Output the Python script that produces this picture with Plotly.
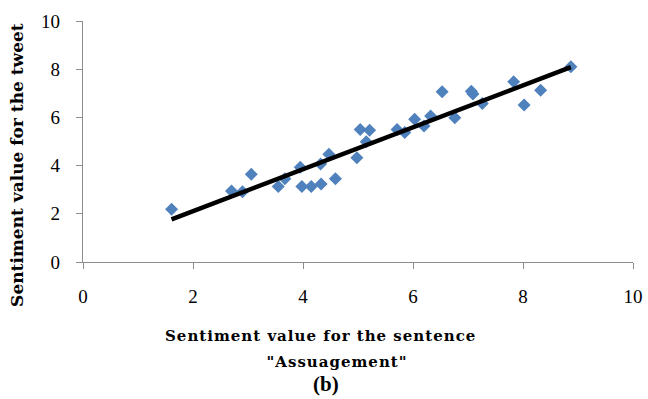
import numpy as np
import plotly.graph_objects as go

# Data
sentence_values = [1.61, 2.70, 2.90, 3.06, 3.55, 3.67, 3.95, 3.98, 4.15, 4.32, 4.33,
                   4.47, 4.59, 4.98, 5.04, 5.15, 5.21, 5.71, 5.85, 6.03, 6.20, 6.32,
                   6.53, 6.76, 7.06, 7.09, 7.26, 7.83, 8.02, 8.32, 8.87]
tweet_values = [2.19, 2.95, 2.92, 3.64, 3.13, 3.45, 3.93, 3.13, 3.13, 4.07, 3.24,
                4.47, 3.45, 4.33, 5.50, 4.99, 5.47, 5.50, 5.37, 5.92, 5.64, 6.06,
                7.06, 5.99, 7.09, 6.97, 6.58, 7.48, 6.51, 7.13, 8.10]
tick_values = [0, 2, 4, 6, 8, 10]
x_title_line1 = "Sentiment value for the sentence"
x_title_line2 = "\"Assuagement\""
y_title = "Sentiment value for the tweet"
caption = "(b)"

# Linear trendline fitted to the data
slope, intercept = np.polyfit(sentence_values, tweet_values, 1)
trend_x = [min(sentence_values), max(sentence_values)]
trend_y = [slope * v + intercept for v in trend_x]

fig = go.Figure()
fig.add_trace(go.Scatter(
    x=sentence_values, y=tweet_values, mode="markers",
    marker=dict(symbol="diamond", size=10, color="#4F81BD", line=dict(width=0)),
    showlegend=False, cliponaxis=False,
))
fig.add_trace(go.Scatter(
    x=trend_x, y=trend_y, mode="lines",
    line=dict(color="black", width=4.5),
    showlegend=False,
))

axis_common = dict(
    range=[0, 10], tickvals=tick_values, showgrid=False, zeroline=False,
    showline=True, linecolor="#8c8c8c", linewidth=1.3, automargin=False,
    ticks="outside", ticklen=6, tickcolor="#8c8c8c", tickwidth=1.3,
    tickfont=dict(family="Liberation Serif, DejaVu Serif, serif", size=19, color="black"),
)
fig.update_xaxes(**axis_common, ticklabelstandoff=11)
fig.update_yaxes(**axis_common, ticklabelstandoff=12)

xt_font = dict(family="DejaVu Serif, serif", size=15, color="black", weight="bold")
fig.add_annotation(text=x_title_line1, xref="paper", yref="paper", x=0.432, y=-0.305,
                   xanchor="center", yanchor="middle", showarrow=False, font=xt_font)
fig.add_annotation(text=x_title_line2, xref="paper", yref="paper", x=0.461, y=-0.417,
                   xanchor="center", yanchor="middle", showarrow=False, font=xt_font)
fig.add_annotation(text=y_title, xref="paper", yref="paper", x=-0.12, y=0.403,
                   xanchor="center", yanchor="middle", showarrow=False, textangle=-90,
                   font=dict(family="DejaVu Serif, serif", size=17, color="black", weight="bold"))
fig.add_annotation(text=caption, xref="paper", yref="paper", x=0.442, y=-0.508,
                   xanchor="center", yanchor="middle", showarrow=False,
                   font=dict(family="Liberation Serif, serif", size=21, color="black", weight="bold"))

fig.update_layout(
    width=648, height=399,
    margin=dict(l=83, r=15, t=21, b=137, autoexpand=False),
    paper_bgcolor="white", plot_bgcolor="white",
)

post_js = """
document.body.style.margin='0';
document.body.style.overflow='hidden';
document.querySelectorAll('.annotation-text').forEach(function(t){
  var s = t.textContent;
  if (s.indexOf('sentence') >= 0 || s.indexOf('Assuagement') >= 0) {
    t.style.letterSpacing = '1px';
  }
});
"""
fig.write_html("out.html", post_script=post_js, config={"displayModeBar": False})
